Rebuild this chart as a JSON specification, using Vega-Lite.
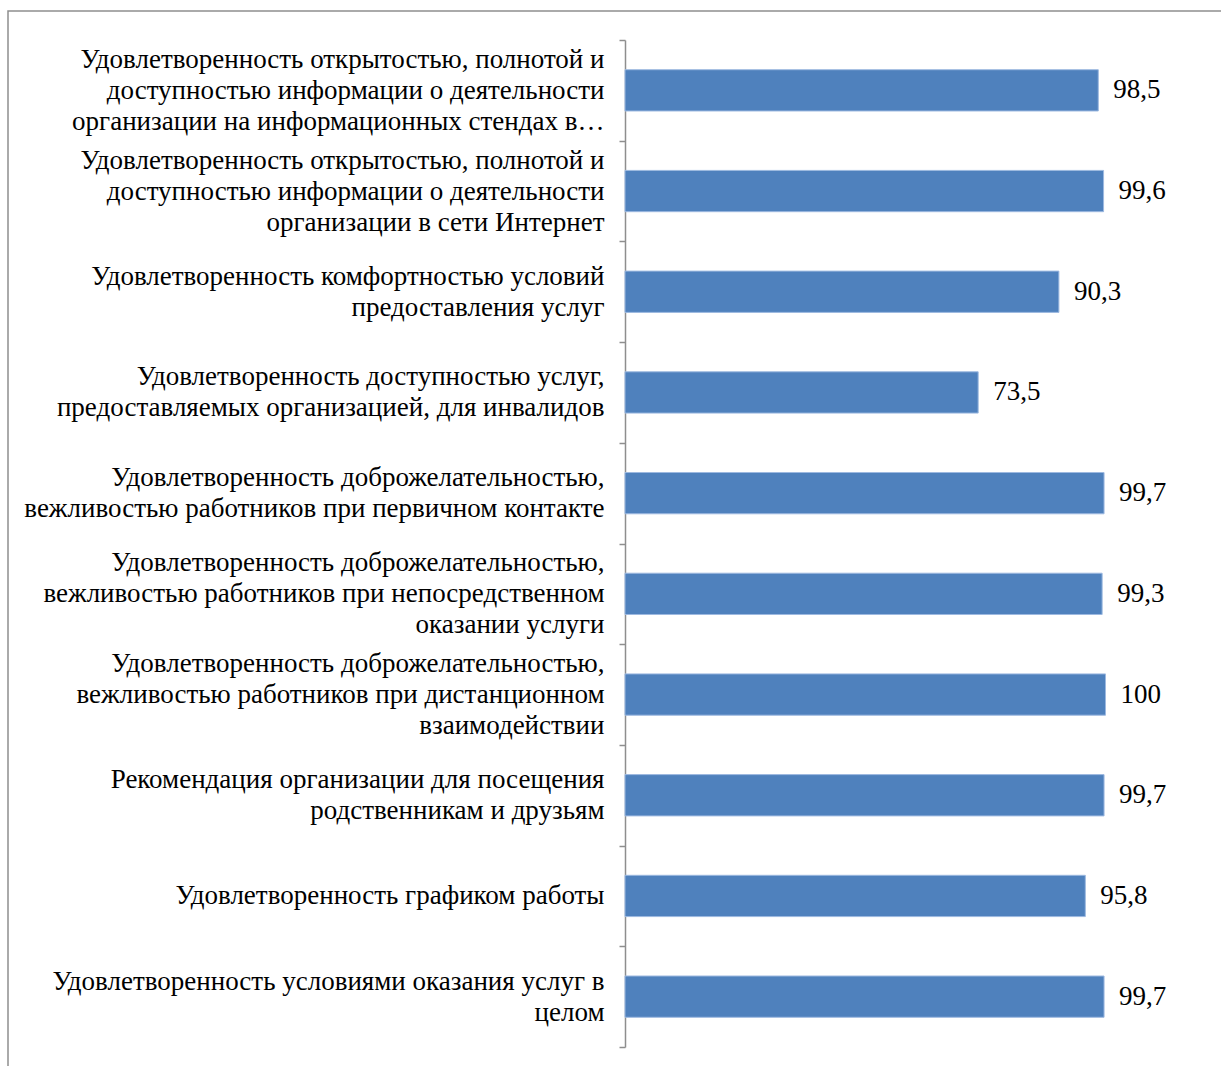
{
  "$schema": "https://vega.github.io/schema/vega-lite/v6.json",
  "autosize": {"type": "none"},
  "padding": {"left": 8, "top": 11, "right": 0, "bottom": 0},
  "width": 1214,
  "height": 1057,
  "background": "#ffffff",
  "config": {
    "view": {"stroke": "#8e8e8e", "strokeWidth": 1.5},
    "locale": {"number": {"decimal": ",", "thousands": " ", "grouping": [3], "currency": ["", ""]}}
  },
  "data": {
    "values": [
      {"category": "Удовлетворенность открытостью, полнотой и\nдоступностью информации о деятельности\nорганизации на информационных стендах в…", "value": 98.5},
      {"category": "Удовлетворенность открытостью, полнотой и\nдоступностью информации о деятельности\nорганизации в сети Интернет", "value": 99.6},
      {"category": "Удовлетворенность комфортностью условий\nпредоставления услуг", "value": 90.3},
      {"category": "Удовлетворенность доступностью услуг,\nпредоставляемых организацией, для инвалидов", "value": 73.5},
      {"category": "Удовлетворенность доброжелательностью,\nвежливостью работников при первичном контакте", "value": 99.7},
      {"category": "Удовлетворенность доброжелательностью,\nвежливостью работников при непосредственном\nоказании услуги", "value": 99.3},
      {"category": "Удовлетворенность доброжелательностью,\nвежливостью работников при дистанционном\nвзаимодействии", "value": 100},
      {"category": "Рекомендация организации для посещения\nродственникам и друзьям", "value": 99.7},
      {"category": "Удовлетворенность графиком работы", "value": 95.8},
      {"category": "Удовлетворенность условиями оказания услуг в\nцелом", "value": 99.7}
    ]
  },
  "encoding": {
    "y": {
      "field": "category",
      "type": "nominal",
      "sort": null,
      "scale": {"range": [29, 1036], "paddingInner": 0, "paddingOuter": 0},
      "axis": {
        "title": null,
        "orient": "left",
        "offset": -617,
        "tickBand": "extent",
        "domainColor": "#8e8e8e",
        "domainWidth": 1.5,
        "tickColor": "#8e8e8e",
        "tickWidth": 1.5,
        "tickSize": 6,
        "labelPadding": 15,
        "labelAlign": "right",
        "labelBaseline": "middle",
        "labelFont": "Liberation Serif, Times New Roman, serif",
        "labelFontSize": 27,
        "labelLineHeight": 31,
        "labelColor": "#000000",
        "labelLimit": 0,
        "labelOffset": {
          "condition": [
            {"test": "length(split(datum.label, '\\n')) == 3", "value": -31},
            {"test": "length(split(datum.label, '\\n')) == 2", "value": -15.5}
          ],
          "value": 0
        },
        "labelExpr": "split(datum.label, '\\n')",
        "grid": false
      }
    },
    "x": {
      "field": "value",
      "type": "quantitative",
      "scale": {"domain": [0, 100], "range": [617, 1097.5], "nice": false},
      "axis": null
    }
  },
  "layer": [
    {
      "mark": {"type": "bar", "height": {"band": 0.41}, "color": "#4f81bd", "stroke": "#9db9e0", "strokeWidth": 1}
    },
    {
      "mark": {"type": "text", "align": "left", "baseline": "middle", "dx": 15, "font": "Liberation Serif, Times New Roman, serif", "fontSize": 27, "color": "#000000"},
      "encoding": {"text": {"field": "value", "type": "quantitative", "format": ".4~g"}}
    }
  ]
}
